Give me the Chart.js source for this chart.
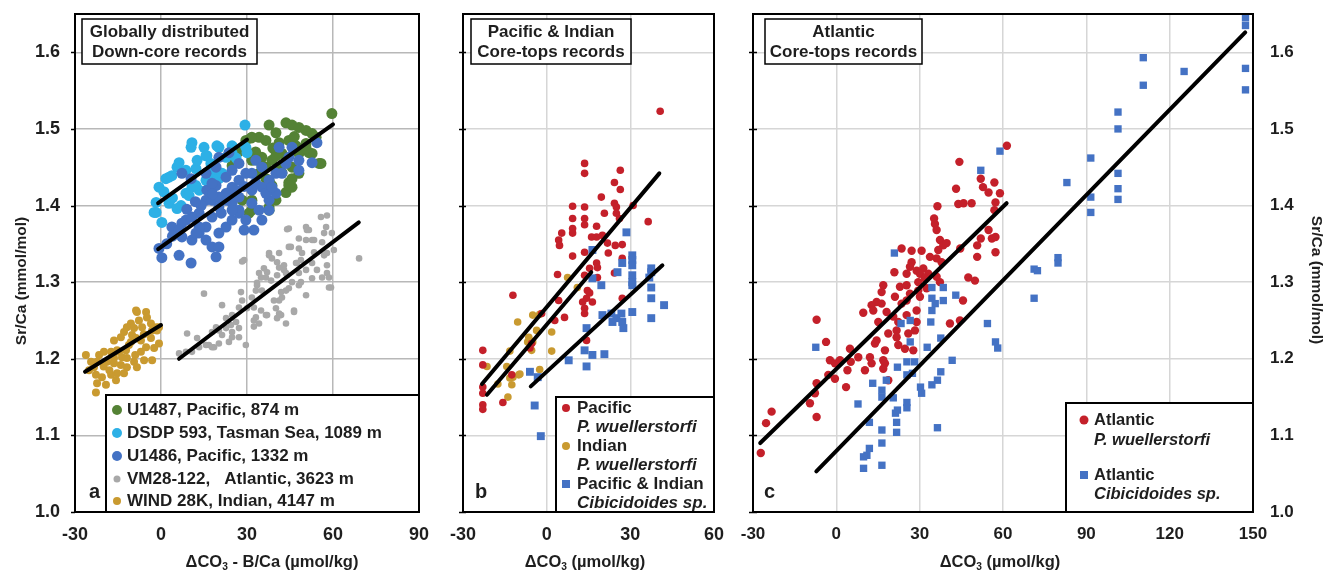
<!DOCTYPE html>
<html>
<head>
<meta charset="utf-8">
<title>Sr/Ca vs carbonate ion saturation</title>
<script src="https://cdn.jsdelivr.net/npm/chart.js@4.4.1/dist/chart.umd.min.js"></script>
<style>
  html, body { margin: 0; padding: 0; background: #fff; }
  #wrap { position: relative; width: 1329px; height: 572px; }
  #wrap canvas { position: absolute; left: 0; top: 0; }
</style>
</head>
<body>
<div id="wrap">
  <canvas id="panelA" width="1329" height="572"></canvas>
  <canvas id="panelB" width="1329" height="572"></canvas>
  <canvas id="panelC" width="1329" height="572"></canvas>
</div>
<script>
// tick labels
const yTicks = [1.0, 1.1, 1.2, 1.3, 1.4, 1.5, 1.6];
const xTicksA = [-30, 0, 30, 60, 90];
const xTicksB = [-30, 0, 30, 60];
const xTicksC = [-30, 0, 30, 60, 90, 120, 150];

// panel a: down-core records, [ΔCO3 - B/Ca, Sr/Ca]
const u1487 = [[59.6,1.52],[43.6,1.508],[45.7,1.505],[48.1,1.502],[50.6,1.498],[52.7,1.494],[37.7,1.505],[40.1,1.495],[31.7,1.489],[34.2,1.489],[36.6,1.485],[41.2,1.482],[44.6,1.485],[55.1,1.455],[51.6,1.469],[48.1,1.468],[44.6,1.43],[43.6,1.417],[45.7,1.424],[38.7,1.459],[41.2,1.45],[36.6,1.45],[37.7,1.433],[42.2,1.468],[40.1,1.407],[37.7,1.398],[37.7,1.394],[31.7,1.394],[30.7,1.39],[28.3,1.407],[31.7,1.407],[34.2,1.442],[31.7,1.459],[24.8,1.452],[45.7,1.45],[48.1,1.442],[52.7,1.468],[29.6,1.485],[50.6,1.481],[54.1,1.489],[35.2,1.463],[47.1,1.478],[50.6,1.475],[55.8,1.455],[42.2,1.443],[45.7,1.435],[44.6,1.426],[31.4,1.488],[35.2,1.452],[40.1,1.465],[36.6,1.435],[38.7,1.426],[25.5,1.455],[46.5,1.49],[39,1.475],[33,1.47],[27,1.47]];
const dsdp593 = [[29.3,1.505],[10.8,1.482],[10.5,1.476],[15,1.476],[20.2,1.476],[6.3,1.456],[16,1.465],[17.4,1.455],[29.6,1.476],[30,1.469],[2.8,1.437],[8.7,1.446],[12.2,1.448],[-0.7,1.424],[-1.7,1.391],[0.3,1.378],[2.8,1.403],[5.6,1.396],[7,1.4],[8.7,1.416],[10.8,1.424],[15.7,1.433],[17.8,1.442],[13.3,1.42],[22.7,1.463],[24.8,1.468],[21.3,1.442],[19.5,1.478],[24.8,1.478],[12.6,1.459],[15.7,1.465],[1.7,1.435],[3.8,1.439],[5.6,1.45],[-2.4,1.391],[-1.7,1.404],[9.8,1.413],[12.2,1.426],[16.7,1.429],[20.2,1.435],[26.2,1.462],[4,1.41],[1,1.418]];
const u1486 = [[-0.7,1.344],[0.3,1.332],[6.3,1.335],[10.5,1.325],[3.8,1.372],[8.7,1.381],[13.3,1.39],[15.7,1.407],[7.3,1.359],[10.8,1.355],[13.3,1.364],[15.7,1.355],[17.8,1.346],[20.2,1.346],[19.2,1.333],[22.7,1.372],[24.8,1.381],[27.2,1.39],[29.6,1.381],[32.4,1.368],[29,1.368],[16,1.42],[19.2,1.426],[22.7,1.437],[24.8,1.446],[27.2,1.455],[19.2,1.45],[23.7,1.469],[17.8,1.407],[22.7,1.407],[27.2,1.411],[31.7,1.42],[35.2,1.424],[37.7,1.433],[40.1,1.442],[31.7,1.442],[33.1,1.459],[35.2,1.45],[37.7,1.407],[40.1,1.416],[37.7,1.394],[41.2,1.476],[44.6,1.463],[45.7,1.476],[48.1,1.459],[48.1,1.446],[52.7,1.456],[54.4,1.482],[43.6,1.455],[42.2,1.442],[31.7,1.403],[34.2,1.394],[24.8,1.403],[27.2,1.394],[24.8,1.394],[20.2,1.398],[17.8,1.385],[15.7,1.372],[20.2,1.364],[13.3,1.372],[12.2,1.364],[7.3,1.377],[6.3,1.368],[10.8,1.385],[17.8,1.429],[15.7,1.442],[24.8,1.424],[27.2,1.433],[29.6,1.442],[22.7,1.416],[20.2,1.411],[36.6,1.416],[35.2,1.381],[38.7,1.424],[20.2,1.463],[7.3,1.442],[10.5,1.435],[14,1.4],[18,1.415],[26,1.42],[29,1.425],[33,1.43],[21,1.39],[25,1.41],[12,1.405],[9,1.395],[4,1.36],[2,1.35]];
const vm28122 = [[57.9,1.387],[55.8,1.385],[57.6,1.372],[59.6,1.364],[60.3,1.342],[50.6,1.372],[51.6,1.368],[44,1.369],[48.1,1.357],[50.6,1.355],[53.4,1.355],[56.9,1.364],[56.2,1.352],[45.3,1.346],[48.1,1.344],[49.2,1.338],[53.4,1.339],[56.9,1.335],[57.9,1.338],[37.7,1.335],[41.2,1.338],[69.1,1.331],[40.5,1.326],[42.9,1.322],[47.4,1.325],[48.8,1.329],[50.6,1.316],[48.1,1.312],[35.9,1.318],[37,1.313],[42.9,1.316],[44,1.309],[40.5,1.309],[38.4,1.302],[45.7,1.3],[44.6,1.292],[43.6,1.289],[48.8,1.3],[48.1,1.296],[52.7,1.305],[56.2,1.306],[57.9,1.312],[59.3,1.293],[28.3,1.327],[34.9,1.306],[33.5,1.299],[33.1,1.289],[35.2,1.289],[41.9,1.287],[41.2,1.276],[39.4,1.276],[42.2,1.28],[50.6,1.283],[31.7,1.28],[28.3,1.276],[27.9,1.287],[21.3,1.27],[15,1.285],[27.2,1.267],[30,1.266],[32.4,1.267],[34.9,1.263],[40.1,1.266],[41.2,1.259],[40.5,1.253],[41.9,1.257],[46.4,1.263],[37,1.257],[32.4,1.25],[32.4,1.242],[34.2,1.246],[43.6,1.246],[24.8,1.257],[22.7,1.253],[26.2,1.248],[24.4,1.244],[27.2,1.24],[24.8,1.235],[22.7,1.24],[19.2,1.241],[17.8,1.235],[21.3,1.231],[20.2,1.237],[27.2,1.228],[24.8,1.228],[23.7,1.222],[29.6,1.218],[18.5,1.215],[16.7,1.218],[20.2,1.22],[12.6,1.227],[9.1,1.233],[13.3,1.215],[15.7,1.218],[17.8,1.215],[6.3,1.207],[8.7,1.209],[10.8,1.209],[33.1,1.254],[46.4,1.261],[36.6,1.257],[58.6,1.293],[50.9,1.368],[52.7,1.355],[44.6,1.37],[44.6,1.346],[47.1,1.325],[38.7,1.331],[41.2,1.319],[43.6,1.312],[29,1.329],[37.7,1.338],[34.2,1.312],[36.6,1.306],[33.5,1.296],[57.9,1.322],[58.6,1.306],[52.7,1.325],[54.4,1.316]];
const wind28k = [[-8.4,1.261],[-5.2,1.261],[-7.7,1.25],[-4.9,1.254],[-3.5,1.246],[-1.7,1.241],[-0.7,1.241],[-6.6,1.241],[-9.4,1.24],[-10.1,1.231],[-12.9,1.235],[-14,1.228],[-16.4,1.224],[-7,1.224],[-3.5,1.227],[-5.2,1.215],[-7,1.209],[-11.2,1.218],[-12.2,1.211],[-14.6,1.209],[-17.4,1.209],[-19.9,1.209],[-21.6,1.205],[-26.2,1.205],[-24.4,1.196],[-22.3,1.196],[-23.4,1.189],[-25.1,1.185],[-18.8,1.196],[-16.4,1.194],[-14,1.192],[-11.9,1.189],[-9.4,1.196],[-8.4,1.189],[-5.9,1.198],[-3.1,1.198],[-15.3,1.181],[-12.9,1.181],[-17.4,1.179],[-20.6,1.176],[-22.7,1.179],[-22.3,1.168],[-19.2,1.166],[-15.7,1.172],[-22.7,1.156],[-0.7,1.22],[-2.4,1.214],[-10.5,1.246],[-11.9,1.241],[-8.7,1.227],[-10.5,1.222],[-15.3,1.211],[-13.6,1.202],[-11.9,1.201],[-16.4,1.201],[-8.7,1.263],[-1.4,1.237],[-3.1,1.237],[-20,1.19],[-18,1.185],[-9,1.205],[-6,1.232]];

// panel b: Pacific & Indian core-tops, [ΔCO3, Sr/Ca]
const pacificPw = [[40.7,1.523],[13.6,1.455],[13.6,1.442],[26.4,1.446],[24.3,1.43],[26.4,1.421],[19.6,1.411],[9.3,1.399],[13.6,1.398],[24.3,1.403],[25,1.398],[9.3,1.383],[13.6,1.383],[13.6,1.375],[20.7,1.39],[25,1.39],[26.1,1.383],[36.4,1.379],[31,1.4],[17.9,1.373],[9.3,1.37],[9.3,1.364],[5.4,1.364],[4.3,1.355],[4.6,1.348],[16.1,1.359],[17.9,1.359],[20,1.361],[21.8,1.351],[24.6,1.348],[27.1,1.349],[9.3,1.334],[13.6,1.339],[22.1,1.338],[27.1,1.331],[17.9,1.325],[18.2,1.319],[15.4,1.318],[13.6,1.309],[3.9,1.31],[18.2,1.306],[24.3,1.312],[14.6,1.289],[15.4,1.286],[12.9,1.274],[14.3,1.279],[16.4,1.274],[13.6,1.266],[13.6,1.259],[27.1,1.279],[-12.1,1.283],[4.3,1.276],[6.4,1.254],[2.9,1.25],[-1.8,1.259],[14.3,1.224],[-5.4,1.22],[-6,1.214],[-22.9,1.211],[-22.9,1.192],[-12.5,1.179],[-22.9,1.163],[-22.9,1.155],[-15.7,1.143],[-22.9,1.14],[-22.9,1.134]];
const indianPw = [[7.5,1.306],[11,1.293],[-10.4,1.248],[-5,1.257],[-3.6,1.237],[1.8,1.235],[-6.4,1.228],[-5,1.222],[1.8,1.21],[-2.5,1.186],[-10,1.179],[-12.1,1.176],[-12.5,1.166],[-14.3,1.19],[-17.5,1.167],[-13.9,1.15],[-21.4,1.19],[-5.4,1.211],[-2.5,1.258],[-13.2,1.21],[-9.6,1.18],[-13.2,1.175],[-6.8,1.222]];
const pacIndCib = [[30.7,1.335],[30.7,1.329],[30.7,1.322],[27.1,1.325],[25.4,1.313],[37.5,1.313],[36.8,1.306],[30.7,1.309],[30.7,1.3],[16.4,1.305],[19.6,1.296],[30.7,1.296],[37.5,1.279],[42.1,1.27],[30.7,1.261],[20,1.257],[23.2,1.259],[25,1.253],[26.8,1.259],[27.1,1.248],[23.6,1.248],[27.5,1.24],[37.5,1.253],[14.3,1.24],[13.6,1.211],[16.4,1.205],[20.7,1.206],[7.9,1.198],[14.3,1.19],[-6,1.183],[-3.2,1.176],[-4.3,1.139],[-2.1,1.099],[28.6,1.365],[16.4,1.342],[37.5,1.318],[37.5,1.293]];

// panel c: Atlantic core-tops, [ΔCO3, Sr/Ca]
const atlanticPw = [[44.3,1.457],[43.1,1.422],[43.9,1.402],[36.4,1.399],[35.2,1.383],[35.5,1.376],[36.1,1.368],[37.3,1.355],[38.5,1.348],[36.7,1.342],[39.7,1.351],[23.5,1.344],[27.1,1.341],[30.7,1.341],[33.7,1.333],[36.1,1.331],[37.9,1.326],[27.1,1.326],[26.5,1.32],[28.9,1.315],[31.3,1.318],[30.1,1.311],[33.1,1.311],[20.9,1.313],[25.3,1.311],[29.5,1.3],[31.9,1.305],[36.1,1.307],[37.3,1.3],[16.9,1.296],[16.3,1.287],[22.9,1.294],[25.3,1.296],[26.5,1.285],[29.5,1.289],[32.5,1.292],[14.5,1.274],[16.3,1.272],[12.7,1.27],[21.1,1.281],[23.5,1.272],[25.3,1.276],[30.1,1.281],[28.9,1.263],[9.7,1.26],[13.3,1.263],[15.1,1.248],[18.1,1.261],[20.5,1.255],[22.3,1.248],[25.3,1.257],[28.9,1.248],[28.3,1.237],[21.7,1.237],[25.9,1.233],[18.7,1.233],[14.5,1.224],[13.9,1.22],[21.7,1.228],[22.3,1.218],[24.7,1.213],[27.7,1.211],[17.5,1.211],[16.9,1.198],[40.9,1.246],[44.5,1.25],[-7.1,1.251],[-3.7,1.222],[4.9,1.213],[7.9,1.202],[-2.3,1.198],[1.3,1.198],[-0.5,1.194],[12.1,1.202],[10.3,1.185],[12.7,1.194],[17.5,1.194],[16.9,1.187],[4,1.185],[5.2,1.196],[-2.9,1.179],[-0.5,1.174],[18.7,1.172],[-7.1,1.168],[-7.7,1.155],[3.5,1.163],[-9.5,1.142],[-7.1,1.124],[-23.3,1.131],[-25.3,1.116],[-27.2,1.077],[61.4,1.478],[45.8,1.403],[48.7,1.403],[52,1.435],[52.8,1.424],[54.8,1.417],[56.9,1.43],[58.9,1.416],[57.3,1.404],[56.9,1.394],[54.8,1.368],[56,1.357],[57.3,1.359],[52,1.357],[57.3,1.339],[50.7,1.348],[50.7,1.333],[47.5,1.306],[49.9,1.302],[45.6,1.276],[44.6,1.344]];
const atlanticCib = [[147.3,1.645],[147.3,1.635],[110.5,1.593],[125.2,1.575],[147.3,1.579],[110.5,1.557],[147.3,1.551],[101.4,1.522],[101.4,1.5],[91.6,1.462],[83,1.43],[101.4,1.442],[101.4,1.422],[101.4,1.408],[91.6,1.411],[91.6,1.391],[58.9,1.471],[52,1.446],[79.8,1.332],[79.8,1.325],[71.2,1.317],[72.4,1.315],[20.9,1.338],[34.4,1.293],[38.5,1.293],[71.2,1.279],[43,1.283],[34.4,1.279],[35.6,1.272],[34.4,1.263],[38.5,1.276],[26.6,1.25],[23.3,1.246],[34,1.248],[54.4,1.246],[57.3,1.222],[58.1,1.214],[26.6,1.222],[32.7,1.215],[37.6,1.227],[-7.4,1.215],[41.7,1.198],[25.4,1.196],[28.2,1.196],[22,1.189],[37.6,1.183],[25.4,1.179],[27.4,1.181],[36.4,1.172],[34.4,1.166],[13.1,1.168],[18,1.172],[30.3,1.163],[30.7,1.155],[16.4,1.159],[16.4,1.15],[20.5,1.149],[7.8,1.141],[25.4,1.143],[25.4,1.136],[22,1.133],[21.3,1.129],[11.9,1.117],[21.7,1.117],[36.4,1.11],[16.4,1.107],[21.7,1.104],[16.4,1.09],[11.9,1.083],[11,1.074],[9.8,1.072],[16.4,1.061],[9.8,1.057]];

// regression lines (end points)
const fitDsdp593 = [[-1,1.403],[30,1.486]];
const fitU1486 = [[-1,1.343],[60,1.506]];
const fitVm28122 = [[6.3,1.2],[69,1.378]];
const fitWind28k = [[-26.5,1.183],[0,1.244]];
const fitPacificPw = [[-23.2,1.167],[40.4,1.442]];
const fitIndianPw = [[-21.4,1.153],[16,1.313]];
const fitPacIndCib = [[-5.7,1.164],[41.5,1.322]];
const fitAtlanticPw = [[-27.4,1.09],[61.3,1.403]];
const fitAtlanticCib = [[-7.2,1.053],[147.2,1.626]];

const FONT = '"Liberation Sans", Arial, sans-serif';
const TXT = '#1e1e1e';
const GREEN = '#548235', LIGHTBLUE = '#2DB0E6', BLUE = '#4472C4', GRAY = '#A8A8A8', GOLD = '#C99A30', RED = '#C4202A';

function pts(arr) { return arr.map(p => ({ x: p[0], y: p[1] })); }

function scatterSet(label, arr, color, radius, style, order) {
  return {
    label: label, data: pts(arr), showLine: false,
    backgroundColor: color, borderColor: color, borderWidth: 0,
    pointRadius: radius, pointHoverRadius: radius, pointStyle: style, order: order
  };
}

function fitSet(arr) {
  return {
    label: 'fit', data: pts(arr), showLine: true, fill: false,
    borderColor: '#000', borderWidth: 4, borderCapStyle: 'round',
    pointRadius: 0, pointHoverRadius: 0, order: 0
  };
}

// text with a subscript part, centred on cx
function drawParts(ctx, parts, cx, cy, size) {
  let w = 0;
  parts.forEach(p => {
    ctx.font = 'bold ' + (p[1] ? size * 0.62 : size) + 'px ' + FONT;
    w += ctx.measureText(p[0]).width;
  });
  let x = cx - w / 2;
  ctx.textAlign = 'left';
  ctx.textBaseline = 'middle';
  parts.forEach(p => {
    ctx.font = 'bold ' + (p[1] ? size * 0.62 : size) + 'px ' + FONT;
    ctx.fillText(p[0], x, cy + (p[1] ? size * 0.3 : 0));
    x += ctx.measureText(p[0]).width;
  });
}

// border, boxes, legend, letters and axis titles
const deco = {
  id: 'deco',
  afterDraw(chart, args, o) {
    const ctx = chart.ctx, a = chart.chartArea, ys = chart.scales.y;
    ctx.save();
    ctx.fillStyle = TXT;

    // short ticks on the left edge
    ctx.strokeStyle = '#000';
    ctx.lineWidth = 1.5;
    yTicks.forEach(v => {
      const py = Math.round(ys.getPixelForValue(v)) + 0.5;
      ctx.beginPath();
      ctx.moveTo(a.left - o.tick[0], py);
      ctx.lineTo(a.left + o.tick[1], py);
      ctx.stroke();
    });

    // plot frame
    ctx.lineWidth = 2;
    ctx.strokeRect(a.left, a.top, a.right - a.left, a.bottom - a.top);

    // title box
    const t = o.title;
    ctx.fillStyle = '#fff';
    ctx.fillRect(t.box[0], t.box[1], t.box[2] - t.box[0], t.box[3] - t.box[1]);
    ctx.lineWidth = 1.5;
    ctx.strokeRect(t.box[0], t.box[1], t.box[2] - t.box[0], t.box[3] - t.box[1]);
    ctx.fillStyle = TXT;
    ctx.font = 'bold 17px ' + FONT;
    ctx.textAlign = 'center';
    ctx.textBaseline = 'middle';
    const cx = (t.box[0] + t.box[2]) / 2;
    ctx.fillText(t.lines[0], cx, 32);
    ctx.fillText(t.lines[1], cx, 52);

    // legend box
    const l = o.legend;
    ctx.fillStyle = '#fff';
    ctx.fillRect(l.box[0], l.box[1], l.box[2] - l.box[0], l.box[3] - l.box[1]);
    ctx.lineWidth = 2;
    ctx.strokeRect(l.box[0], l.box[1], l.box[2] - l.box[0], l.box[3] - l.box[1]);
    l.items.forEach(it => {
      if (it.mark === 'circle') {
        ctx.fillStyle = it.color;
        ctx.beginPath();
        ctx.arc(l.markX, it.y, it.r, 0, Math.PI * 2);
        ctx.fill();
      } else if (it.mark === 'rect') {
        ctx.fillStyle = it.color;
        ctx.fillRect(l.markX - it.r, it.y - it.r, it.r * 2, it.r * 2);
      }
      ctx.fillStyle = TXT;
      ctx.font = (it.italic ? 'italic ' : '') + 'bold ' + l.size + 'px ' + FONT;
      ctx.textAlign = 'left';
      ctx.textBaseline = 'middle';
      ctx.fillText(it.text, l.textX, it.y);
    });

    // panel letter
    ctx.fillStyle = TXT;
    ctx.font = 'bold 20px ' + FONT;
    ctx.textAlign = 'left';
    ctx.textBaseline = 'middle';
    ctx.fillText(o.letter, o.letterX, 492);

    // x axis title
    drawParts(ctx, o.xTitle, o.xTitleX, 562, 16.5);

    // y axis title
    if (o.yTitle) {
      ctx.save();
      ctx.translate(o.yTitle.x, o.yTitle.y);
      ctx.rotate(o.yTitle.rot);
      ctx.font = 'bold 15.5px ' + FONT;
      ctx.textAlign = 'center';
      ctx.textBaseline = 'middle';
      ctx.fillText('Sr/Ca (mmol/mol)', 0, 0);
      ctx.restore();
    }
    ctx.restore();
  }
};

function makeChart(id, cfg) {
  const tickFont = { family: FONT, size: cfg.tickSize, weight: 'bold' };
  return new Chart(document.getElementById(id), {
    type: 'scatter',
    data: { datasets: cfg.datasets },
    plugins: [deco],
    options: {
      responsive: false,
      animation: false,
      devicePixelRatio: 1,
      layout: { padding: cfg.padding },
      plugins: { legend: { display: false }, tooltip: { enabled: false }, deco: cfg.deco },
      scales: {
        x: {
          type: 'linear', min: cfg.xTicks[0], max: cfg.xTicks[cfg.xTicks.length - 1],
          afterBuildTicks: s => { s.ticks = cfg.xTicks.map(v => ({ value: v })); },
          afterFit: s => { s.height = 60; s.paddingLeft = 0; s.paddingRight = 0; },
          grid: { color: cfg.gridColor, lineWidth: 1.5, drawTicks: false },
          border: { display: false },
          ticks: { font: tickFont, color: TXT, padding: 12, maxRotation: 0, autoSkip: false, callback: v => String(v) }
        },
        y: {
          type: 'linear', position: cfg.yPos, min: 1.0, max: 1.65,
          afterBuildTicks: s => { s.ticks = yTicks.map(v => ({ value: v })); },
          afterFit: s => { s.width = cfg.yWidth; s.paddingTop = 0; s.paddingBottom = 0; },
          grid: { color: cfg.gridColor, lineWidth: 1.5, drawTicks: false },
          border: { display: false },
          ticks: { display: cfg.yLabels, font: tickFont, color: TXT, padding: cfg.yPad, callback: v => v.toFixed(1) }
        }
      }
    }
  });
}

const dAxis = [['ΔCO', false], ['3', true], [' - B/Ca (µmol/kg)', false]];
const dAxisBC = [['ΔCO', false], ['3', true], [' (µmol/kg)', false]];

// panel a
makeChart('panelA', {
  padding: { left: 0, right: 910, top: 14, bottom: 0 },
  xTicks: xTicksA, yPos: 'left', yWidth: 75, yLabels: true, yPad: 15, tickSize: 18,
  gridColor: '#b8b8b8',
  datasets: [
    fitSet(fitDsdp593), fitSet(fitU1486), fitSet(fitVm28122), fitSet(fitWind28k),
    scatterSet('U1486, Pacific, 1332 m', u1486, BLUE, 5.5, 'circle', 1),
    scatterSet('DSDP 593, Tasman Sea, 1089 m', dsdp593, LIGHTBLUE, 5.5, 'circle', 2),
    scatterSet('U1487, Pacific, 874 m', u1487, GREEN, 5.5, 'circle', 3),
    scatterSet('VM28-122, Atlantic, 3623 m', vm28122, GRAY, 3.3, 'circle', 4),
    scatterSet('WIND 28K, Indian, 4147 m', wind28k, GOLD, 4, 'circle', 5)
  ],
  deco: {
    tick: [4, 0],
    title: { box: [82, 19, 257, 64], lines: ['Globally distributed', 'Down-core records'] },
    legend: {
      box: [106, 395, 419, 512], markX: 117, textX: 127, size: 17,
      items: [
        { mark: 'circle', color: GREEN, r: 5, y: 410, text: 'U1487, Pacific, 874 m' },
        { mark: 'circle', color: LIGHTBLUE, r: 5, y: 433, text: 'DSDP 593, Tasman Sea, 1089 m' },
        { mark: 'circle', color: BLUE, r: 5, y: 456, text: 'U1486, Pacific, 1332 m' },
        { mark: 'circle', color: GRAY, r: 3.5, y: 479, text: 'VM28-122,   Atlantic, 3623 m' },
        { mark: 'circle', color: GOLD, r: 4, y: 501, text: 'WIND 28K, Indian, 4147 m' }
      ]
    },
    letter: 'a', letterX: 89,
    xTitle: dAxis, xTitleX: 272,
    yTitle: { x: 22, y: 281, rot: -Math.PI / 2 }
  }
});

// panel b
makeChart('panelB', {
  padding: { left: 453, right: 615, top: 14, bottom: 0 },
  xTicks: xTicksB, yPos: 'left', yWidth: 10, yLabels: false, yPad: 0, tickSize: 18,
  gridColor: '#d6d6d6',
  datasets: [
    fitSet(fitPacificPw), fitSet(fitIndianPw), fitSet(fitPacIndCib),
    scatterSet('Pacific & Indian Cibicidoides sp.', pacIndCib, BLUE, 5.6, 'rect', 1),
    scatterSet('Pacific P. wuellerstorfi', pacificPw, RED, 3.8, 'circle', 2),
    scatterSet('Indian P. wuellerstorfi', indianPw, GOLD, 3.8, 'circle', 3)
  ],
  deco: {
    tick: [4, 3],
    title: { box: [471, 19, 631, 64], lines: ['Pacific & Indian', 'Core-tops records'] },
    legend: {
      box: [556, 397, 714, 512], markX: 566, textX: 577, size: 17,
      items: [
        { mark: 'circle', color: RED, r: 4, y: 408, text: 'Pacific' },
        { y: 427, text: 'P. wuellerstorfi', italic: true },
        { mark: 'circle', color: GOLD, r: 4, y: 446, text: 'Indian' },
        { y: 465, text: 'P. wuellerstorfi', italic: true },
        { mark: 'rect', color: BLUE, r: 4, y: 484, text: 'Pacific & Indian' },
        { y: 503, text: 'Cibicidoides sp.', italic: true }
      ]
    },
    letter: 'b', letterX: 475,
    xTitle: dAxisBC, xTitleX: 585
  }
});

// panel c
makeChart('panelC', {
  padding: { left: 753, right: 0, top: 14, bottom: 0 },
  xTicks: xTicksC, yPos: 'right', yWidth: 76, yLabels: true, yPad: 17, tickSize: 17,
  gridColor: '#d6d6d6',
  datasets: [
    fitSet(fitAtlanticPw), fitSet(fitAtlanticCib),
    scatterSet('Atlantic Cibicidoides sp.', atlanticCib, BLUE, 5.2, 'rect', 1),
    scatterSet('Atlantic P. wuellerstorfi', atlanticPw, RED, 4.2, 'circle', 2)
  ],
  deco: {
    tick: [4, 4],
    title: { box: [765, 19, 922, 64], lines: ['Atlantic', 'Core-tops records'] },
    legend: {
      box: [1066, 403, 1253, 512], markX: 1084, textX: 1094, size: 16.5,
      items: [
        { mark: 'circle', color: RED, r: 4.5, y: 420, text: 'Atlantic' },
        { y: 440, text: 'P. wuellerstorfi', italic: true },
        { mark: 'rect', color: BLUE, r: 4, y: 475, text: 'Atlantic' },
        { y: 494, text: 'Cibicidoides sp.', italic: true }
      ]
    },
    letter: 'c', letterX: 764,
    xTitle: dAxisBC, xTitleX: 1000,
    yTitle: { x: 1316, y: 280, rot: Math.PI / 2 }
  }
});
</script>
</body>
</html>
